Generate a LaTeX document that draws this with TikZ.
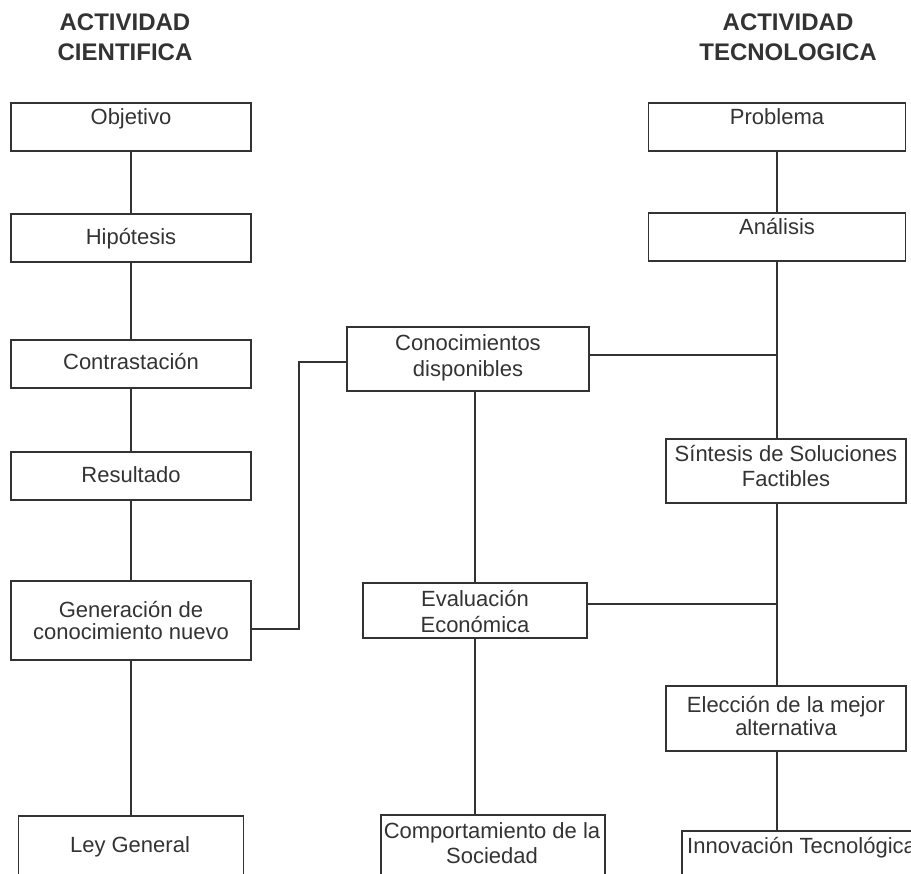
\documentclass[tikz,border=0pt]{standalone}
\usepackage{fontspec}
\setmainfont{Liberation Sans}
\definecolor{ink}{HTML}{333333}
\begin{document}
\begin{tikzpicture}[x=1pt,y=-1pt,
  box/.style={draw=ink, line width=1.3pt, rectangle, inner sep=0pt},
  lbl/.style={text=ink, font=\fontsize{22}{26}\selectfont, inner sep=0pt, anchor=base},
  ttl/.style={text=ink, font=\bfseries\fontsize{24}{30}\selectfont, inner sep=0pt, anchor=base},
  con/.style={draw=ink, line width=1.6pt}]
\useasboundingbox (0,0) rectangle (911,874);
\begin{scope}
\clip (0,0) rectangle (911,874);
% titles
\node[ttl] (t1a) at (125,31) {ACTIVIDAD};
\node[ttl] (t1b) at (125,61) {CIENTIFICA};
\node[ttl] (t2a) at (788,31) {ACTIVIDAD};
\node[ttl] (t2b) at (788,61) {TECNOLOGICA};
% boxes: left column
\node[box, minimum width=240pt, minimum height=48pt] (obj) at (131,127) {};
\node[box, minimum width=240pt, minimum height=48pt] (hip) at (131,238) {};
\node[box, minimum width=240pt, minimum height=48pt] (con) at (131,364) {};
\node[box, minimum width=240pt, minimum height=48pt] (res) at (131,476) {};
\node[box, minimum width=240pt, minimum height=79pt] (gen) at (131,620.5) {};
\node[box, minimum width=225pt, minimum height=80pt] (ley) at (131,856) {};
% middle
\node[box, minimum width=242pt, minimum height=64pt] (cd) at (468,359) {};
\node[box, minimum width=224pt, minimum height=55pt] (ev) at (475,610.5) {};
\node[box, minimum width=224pt, minimum height=70pt] (cs) at (493,850) {};
% right
\node[box, minimum width=257pt, minimum height=48pt] (pro) at (777,127) {};
\node[box, minimum width=257pt, minimum height=48pt] (ana) at (777,237) {};
\node[box, minimum width=240pt, minimum height=64pt] (sin) at (786,471) {};
\node[box, minimum width=240pt, minimum height=65pt] (ele) at (786,718.5) {};
\node[box, minimum width=260pt, minimum height=70pt] (inn) at (812,866) {};
% labels
\node[lbl] (lobj) at (131,125) {Objetivo};
\node[lbl] (lhip) at (131,245) {Hipótesis};
\node[lbl] (lcon) at (131,370) {Contrastación};
\node[lbl] (lres) at (131,483) {Resultado};
\node[lbl] (lgen1) at (131,617) {Generación de};
\node[lbl] (lgen2) at (131,639) {conocimiento nuevo};
\node[lbl] (lley) at (130,852) {Ley General};
\node[lbl] (lcd1) at (468,351) {Conocimientos};
\node[lbl] (lcd2) at (468,377) {disponibles};
\node[lbl] (lev1) at (475,606) {Evaluación};
\node[lbl] (lev2) at (475,632) {Económica};
\node[lbl] (lcs1) at (492,838) {Comportamiento de la};
\node[lbl] (lcs2) at (492,863) {Sociedad};
\node[lbl] (lpro) at (777,125) {Problema};
\node[lbl] (lana) at (777,235) {Análisis};
\node[lbl] (lsin1) at (786,462) {Síntesis de Soluciones};
\node[lbl] (lsin2) at (786,487) {Factibles};
\node[lbl] (lele1) at (786,712) {Elección de la mejor};
\node[lbl] (lele2) at (786,735) {alternativa};
\node[lbl, anchor=base west] (linn) at (687,853) {Innovación Tecnológica};
% connectors left column
\draw[con] (obj.south) -- (hip.north);
\draw[con] (hip.south) -- (con.north);
\draw[con] (con.south) -- (res.north);
\draw[con] (res.south) -- (gen.north);
\draw[con] (gen.south) -- (ley.north);
% right column
\draw[con] (pro.south) -- (ana.north);
\draw[con] (ana.south) -- (sin.north -| ana.south);
\draw[con] (sin.south -| ana.south) -- (ele.north -| ana.south);
\draw[con] (ele.south -| ana.south) -- (inn.north -| ana.south);
% middle
\draw[con] (cd.south -| ev.north) -- (ev.north);
\draw[con] (ev.south) -- (cs.north -| ev.south);
\coordinate (j1) at (ana.south |- 0,355);
\coordinate (j2) at (ana.south |- 0,604);
\draw[con] (cd.east |- j1) -- (j1);
\draw[con] (ev.east |- j2) -- (j2);
\coordinate (k1) at (299,629);
\coordinate (k2) at (299,362);
\draw[con] (gen.east |- k1) -- (k1) -- (k2) -- (cd.west |- k2);
\end{scope}
\end{tikzpicture}
\end{document}
